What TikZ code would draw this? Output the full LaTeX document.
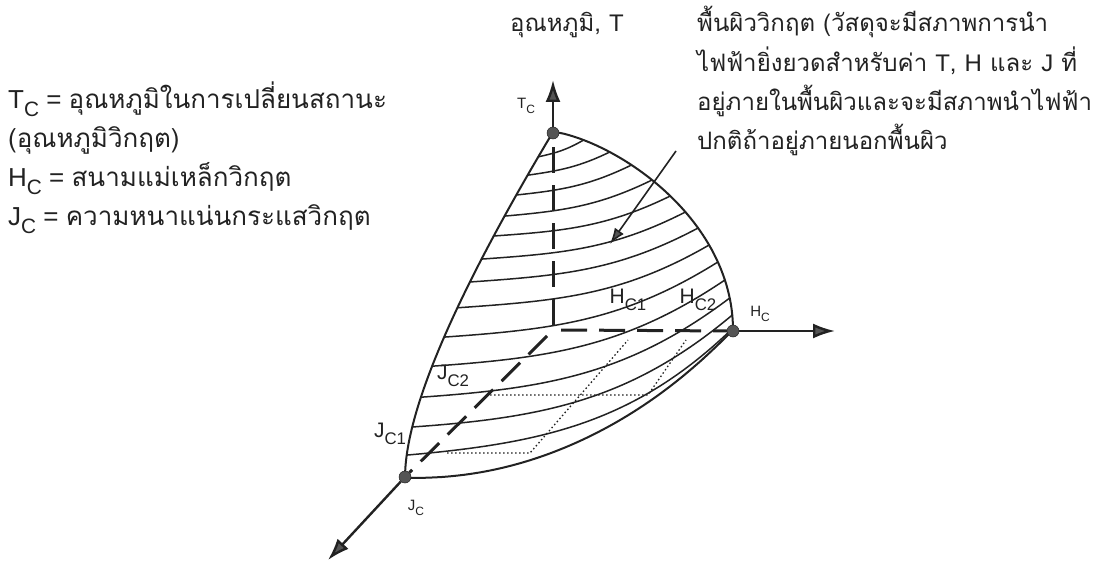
\documentclass[tikz,border=0pt]{standalone}
\usepackage{fontspec}
\setmainfont{Liberation Sans}
\newfontfamily\thaifont[Script=Thai]{Loma}
\usetikzlibrary{arrows.meta}
\definecolor{ink}{HTML}{222222}
\definecolor{headgray}{HTML}{555555}
\newcommand\sbc[1]{\raisebox{-0.3em}{\scalebox{0.8}{#1}}}
\tikzset{
  legend/.style={anchor=base west, inner sep=0pt, text=ink, font=\fontsize{26}{30}\selectfont},
  note/.style={anchor=base west, inner sep=0pt, text=ink, font=\fontsize{24}{30}\selectfont\thaifont},
  small/.style={inner sep=0pt, text=ink, font=\fontsize{15}{18}\selectfont},
  big/.style={inner sep=0pt, text=ink, font=\fontsize{21}{24}\selectfont},
  edge/.style={draw=ink, line width=2pt},
  hatch/.style={draw=ink, line width=1.5pt},
  hidden/.style={draw=ink, line width=3pt, dash pattern=on 26pt off 12pt},
  axisarrow/.style={draw=ink, line width=2.4pt, -{Latex[length=22pt, width=15pt, fill=headgray]}},
  pointer/.style={draw=ink, line width=1.6pt, -{Latex[length=16pt, width=11pt, fill=headgray]}},
  guide/.style={draw=ink, line width=1.3pt, dash pattern=on 1.5pt off 2.5pt},
  dot/.style={circle, fill=headgray, draw=ink, line width=0.5pt, minimum size=12pt, inner sep=0pt}
}
\begin{document}
\begin{tikzpicture}[x=1pt, y=-1pt]
\useasboundingbox (0,0) rectangle (1108,561);
\fill[white] (0,0) rectangle (1108,561);

% hatching: left end (x,y), right end height, leaving angle, arriving angle
\foreach \xl/\yl/\yr/\ao/\ai in {
  538.3/156.8/140/12/30, 527.6/175.2/152/8/26, 516.3/195.0/165/6/26,
  504.5/216.1/180/5/26, 493.7/236.0/196/4/26, 481.5/259.1/212/4/27,
  469.9/282.0/228/4/28, 457.4/307.8/245/4/30, 444.1/337.1/262/4/32,
  432.1/366.2/280/4/34, 420.9/397.2/298/4/37, 412.2/427.0/315/4/40,
  406.7/455.1/328/5/44}{
  \pgfmathsetmacro\xr{553+180*(1-((330-\yr)/198)^2)^0.7}
  \pgfmathsetmacro\dd{0.39*veclen(\xr-\xl,\yr-\yl)}
  \pgfmathsetmacro\cax{\xl+\dd*cos(\ao)}
  \pgfmathsetmacro\cay{\yl-\dd*sin(\ao)}
  \pgfmathsetmacro\cbx{\xr-\dd*cos(\ai)}
  \pgfmathsetmacro\cby{\yr+\dd*sin(\ai)}
  \draw[hatch] (\xl,\yl) .. controls (\cax,\cay) and (\cbx,\cby) .. (\xr,\yr);
}
% boundary curves
\draw[edge] plot[domain=0:90, samples=61, variable=\a]
   ({553 + 180*pow(max(cos(\a),0.0001),0.8) - 148*pow(max(sin(\a),0.0001),0.8)},
    {330 + 148*pow(max(sin(\a),0.0001),0.8)});
\draw[edge] plot[domain=0:1, samples=41, variable=\s]
   ({553 - 148*(1-\s*\s)}, {330 - 198*\s + 148*(1-\s*\s)});
\draw[edge] plot[domain=0:90, samples=61, variable=\a]
   ({553 + 180*pow(max(cos(\a),0.0001),1.4)}, {330 - 198*sin(\a)});

% dotted guides
\coordinate (ja) at (447,453);
\coordinate (jb) at (530,453);
\coordinate (jc) at (628,340);
\coordinate (ka) at (490,395);
\coordinate (kb) at (648,395);
\coordinate (kc) at (686,340);
\draw[guide] (ja) -- (jb) -- (jc);
\draw[guide] (ka) -- (kb) -- (kc);

% points
\node[dot] (Tc) at (553,133) {};
\node[dot] (Hc) at (733,331) {};
\node[dot] (Jc) at (405,477) {};
\coordinate (Ot) at (553,325);
\coordinate (Oh) at (561,330);
\coordinate (Oj) at (547,336);

% hidden axes
\draw[hidden] (Ot) -- (Tc);
\draw[hidden] (Oh) -- (Hc);
\draw[hidden] (Oj) -- (Jc);

% axis arrows
\coordinate (Ttip) at (553,80);
\coordinate (Htip) at (835,331);
\coordinate (Jtip) at (328,560);
\draw[axisarrow] (Tc) -- (Ttip);
\draw[axisarrow] (Hc) -- (Htip);
\draw[axisarrow] (Jc) -- (Jtip);

% pointer to surface
\coordinate (p0) at (676,151);
\coordinate (p1) at (610,244);
\draw[pointer] (p0) -- (p1);

% axis labels
\node[small] (lT) at (526,106) {T\sbc{C}};
\node[small] (lH) at (760,314) {H\sbc{C}};
\node[small] (lJ) at (416,508) {J\sbc{C}};
\node[big] (lH1) at (628,300) {H\sbc{C1}};
\node[big] (lH2) at (698,300) {H\sbc{C2}};
\node[big] (lJ1) at (390,434) {J\sbc{C1}};
\node[big] (lJ2) at (453,376) {J\sbc{C2}};

% legend
\node[legend] (g1) at (8,109) {T\sbc{C} = {\thaifont อุณหภูมิในการเปลี่ยนสถานะ}};
\node[legend] (g2) at (8,148) {\thaifont (อุณหภูมิวิกฤต)};
\node[legend] (g3) at (8,187) {H\sbc{C} = {\thaifont สนามแม่เหล็กวิกฤต}};
\node[legend] (g4) at (8,226) {J\sbc{C} = {\thaifont ความหนาแน่นกระแสวิกฤต}};

% top notes
\node[note] (tt) at (510,32) {อุณหภูมิ, {\normalfont T}};
\node[note] (n1) at (697,32) {พื้นผิววิกฤต (วัสดุจะมีสภาพการนำ};
\node[note] (n2) at (697,72) {ไฟฟ้ายิ่งยวดสำหรับค่า {\normalfont T}, {\normalfont H} และ {\normalfont J} ที่};
\node[note] (n3) at (697,111) {อยู่ภายในพื้นผิวและจะมีสภาพนำไฟฟ้า};
\node[note] (n4) at (697,150) {ปกติถ้าอยู่ภายนอกพื้นผิว};
\end{tikzpicture}
\end{document}
